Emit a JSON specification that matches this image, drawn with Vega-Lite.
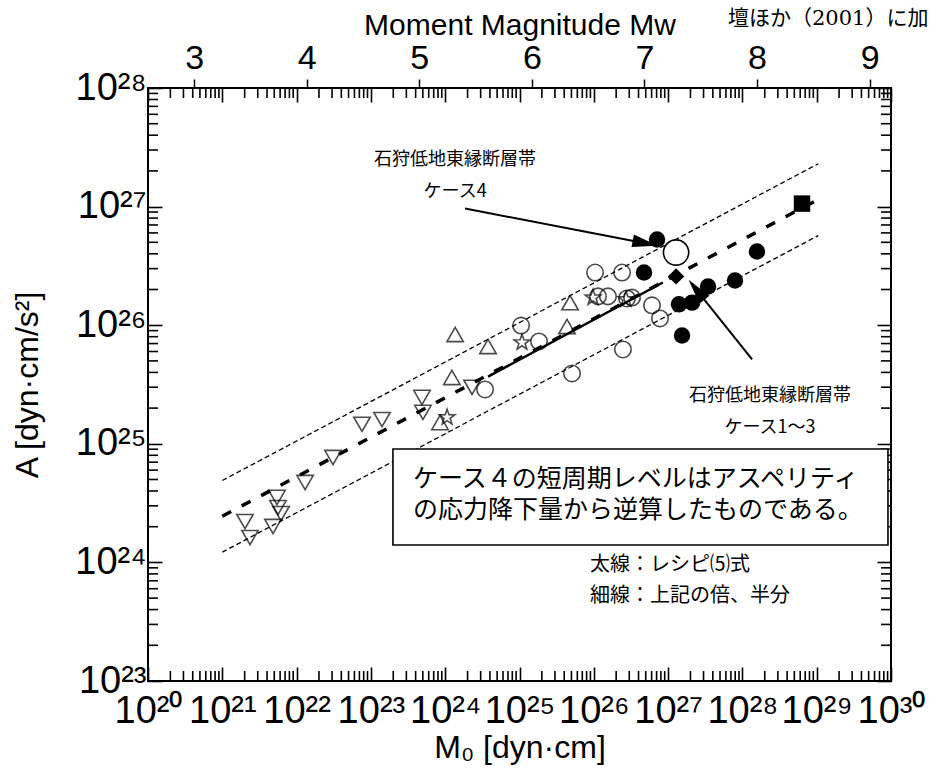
{
  "$schema": "https://vega.github.io/schema/vega-lite/v6.json",
  "width": 743,
  "height": 593,
  "autosize": {"type": "none"},
  "padding": {"left": 148, "top": 88, "right": 38, "bottom": 103},
  "background": "white",
  "config": {
    "view": {"stroke": "black", "strokeWidth": 2},
    "font": "Liberation Sans",
    "axis": {
      "domain": false,
      "grid": false,
      "tickColor": "black",
      "labelColor": "black",
      "titleColor": "black",
      "labelFont": "Liberation Sans",
      "titleFont": "Liberation Sans",
      "titleFontWeight": "normal"
    }
  },
  "datasets": {
    "minorX": [
      {"v": 2e20}, {"v": 3e20}, {"v": 4e20}, {"v": 5e20}, {"v": 6e20}, {"v": 7e20}, {"v": 8e20}, {"v": 9e20},
      {"v": 2e21}, {"v": 3e21}, {"v": 4e21}, {"v": 5e21}, {"v": 6e21}, {"v": 7e21}, {"v": 8e21}, {"v": 9e21},
      {"v": 2e22}, {"v": 3e22}, {"v": 4e22}, {"v": 5e22}, {"v": 6e22}, {"v": 7e22}, {"v": 8e22}, {"v": 9e22},
      {"v": 2e23}, {"v": 3e23}, {"v": 4e23}, {"v": 5e23}, {"v": 6e23}, {"v": 7e23}, {"v": 8e23}, {"v": 9e23},
      {"v": 2e24}, {"v": 3e24}, {"v": 4e24}, {"v": 5e24}, {"v": 6e24}, {"v": 7e24}, {"v": 8e24}, {"v": 9e24},
      {"v": 2e25}, {"v": 3e25}, {"v": 4e25}, {"v": 5e25}, {"v": 6e25}, {"v": 7e25}, {"v": 8e25}, {"v": 9e25},
      {"v": 2e26}, {"v": 3e26}, {"v": 4e26}, {"v": 5e26}, {"v": 6e26}, {"v": 7e26}, {"v": 8e26}, {"v": 9e26},
      {"v": 2e27}, {"v": 3e27}, {"v": 4e27}, {"v": 5e27}, {"v": 6e27}, {"v": 7e27}, {"v": 8e27}, {"v": 9e27},
      {"v": 2e28}, {"v": 3e28}, {"v": 4e28}, {"v": 5e28}, {"v": 6e28}, {"v": 7e28}, {"v": 8e28}, {"v": 9e28},
      {"v": 2e29}, {"v": 3e29}, {"v": 4e29}, {"v": 5e29}, {"v": 6e29}, {"v": 7e29}, {"v": 8e29}, {"v": 9e29}
    ],
    "minorY": [
      {"v": 2e23}, {"v": 3e23}, {"v": 4e23}, {"v": 5e23}, {"v": 6e23}, {"v": 7e23}, {"v": 8e23}, {"v": 9e23},
      {"v": 2e24}, {"v": 3e24}, {"v": 4e24}, {"v": 5e24}, {"v": 6e24}, {"v": 7e24}, {"v": 8e24}, {"v": 9e24},
      {"v": 2e25}, {"v": 3e25}, {"v": 4e25}, {"v": 5e25}, {"v": 6e25}, {"v": 7e25}, {"v": 8e25}, {"v": 9e25},
      {"v": 2e26}, {"v": 3e26}, {"v": 4e26}, {"v": 5e26}, {"v": 6e26}, {"v": 7e26}, {"v": 8e26}, {"v": 9e26},
      {"v": 2e27}, {"v": 3e27}, {"v": 4e27}, {"v": 5e27}, {"v": 6e27}, {"v": 7e27}, {"v": 8e27}, {"v": 9e27}
    ],
    "lines": [
      {"series": "upper", "M0": 1e21, "A": 4.9e24},
      {"series": "upper", "M0": 1.05e29, "A": 2.3e27},
      {"series": "lower", "M0": 1e21, "A": 1.22e24},
      {"series": "lower", "M0": 1.05e29, "A": 5.7e26},
      {"series": "recipe", "M0": 1e21, "A": 2.45e24},
      {"series": "recipe", "M0": 1.05e29, "A": 1.15e27},
      {"series": "fit", "M0": 3.77e24, "A": 3.69e25},
      {"series": "fit", "M0": 8.5e26, "A": 2.29e26}
    ],
    "points": [
      {"group": "▽", "M0": 2.02e21, "A": 2.21e24},
      {"group": "▽", "M0": 2.36e21, "A": 1.62e24},
      {"group": "▽", "M0": 4.81e21, "A": 2.01e24},
      {"group": "▽", "M0": 5.44e21, "A": 3.53e24},
      {"group": "▽", "M0": 5.62e21, "A": 2.90e24},
      {"group": "▽", "M0": 6.17e21, "A": 2.58e24},
      {"group": "▽", "M0": 1.30e22, "A": 4.72e24},
      {"group": "▽", "M0": 3.09e22, "A": 7.66e24},
      {"group": "▽", "M0": 7.59e22, "A": 1.46e25},
      {"group": "▽", "M0": 1.41e23, "A": 1.60e25},
      {"group": "▽", "M0": 4.87e23, "A": 2.46e25},
      {"group": "▽", "M0": 5.02e23, "A": 1.84e25},
      {"group": "▽", "M0": 2.30e24, "A": 2.99e25},
      {"group": "△", "M0": 1.36e24, "A": 8.35e25},
      {"group": "△", "M0": 1.23e24, "A": 3.62e25},
      {"group": "△", "M0": 3.77e24, "A": 6.61e25},
      {"group": "△", "M0": 8.51e23, "A": 1.51e25},
      {"group": "△", "M0": 4.79e25, "A": 1.55e26},
      {"group": "△", "M0": 4.36e25, "A": 9.75e25},
      {"group": "☆", "M0": 1.06e24, "A": 1.67e25},
      {"group": "☆", "M0": 1.08e25, "A": 7.15e25},
      {"group": "☆", "M0": 9.75e25, "A": 1.71e26},
      {"group": "☆", "M0": 2.71e26, "A": 1.65e26},
      {"group": "○", "M0": 1.04e26, "A": 2.78e26},
      {"group": "○", "M0": 2.40e26, "A": 2.78e26},
      {"group": "○", "M0": 1.14e26, "A": 1.75e26},
      {"group": "○", "M0": 1.55e26, "A": 1.75e26},
      {"group": "○", "M0": 2.80e26, "A": 1.68e26},
      {"group": "○", "M0": 3.27e26, "A": 1.71e26},
      {"group": "○", "M0": 1.05e25, "A": 9.93e25},
      {"group": "○", "M0": 1.83e25, "A": 7.30e25},
      {"group": "○", "M0": 2.47e26, "A": 6.24e25},
      {"group": "○", "M0": 5.09e25, "A": 3.92e25},
      {"group": "○", "M0": 3.44e24, "A": 2.87e25},
      {"group": "○", "M0": 6.07e26, "A": 1.47e26},
      {"group": "○", "M0": 7.78e26, "A": 1.14e26},
      {"group": "●", "M0": 7.10e26, "A": 5.28e26},
      {"group": "●", "M0": 1.40e27, "A": 1.50e26},
      {"group": "●", "M0": 2.10e27, "A": 1.55e26},
      {"group": "●", "M0": 3.45e27, "A": 2.12e26},
      {"group": "●", "M0": 7.95e27, "A": 2.38e26},
      {"group": "●", "M0": 1.57e28, "A": 4.18e26},
      {"group": "●", "M0": 1.54e27, "A": 8.18e25},
      {"group": "◆", "M0": 1.28e27, "A": 2.58e26},
      {"group": "■", "M0": 6.34e28, "A": 1.06e27},
      {"group": "・", "M0": 4.74e26, "A": 2.78e26},
      {"group": "ケース4", "M0": 1.28e27, "A": 4.10e26}
    ],
    "arrows": [
      {"arrow": "ケース4", "M0": 1.85e24, "A": 9.64e26, "M0end": 4.92e26, "Aend": 4.91e26},
      {"arrow": "ケース1～3", "M0": 1.35e28, "A": 5.14e25, "M0end": 2.41e27, "Aend": 1.99e26}
    ],
    "box": [
      {"M0a": 1.98e23, "M0b": 9.1e29, "Atop": 9.04e24, "Abot": 1.40e24}
    ],
    "notes": [
      {"role": "callout", "label": "石狩低地東縁断層帯", "M0": 1.36e24, "A": 2.49e27},
      {"role": "callout", "label": "ケース4", "M0": 1.36e24, "A": 1.34e27},
      {"role": "callout", "label": "石狩低地東縁断層帯", "M0": 2.35e28, "A": 2.55e25},
      {"role": "callout", "label": "ケース1～3", "M0": 2.35e28, "A": 1.37e25},
      {"role": "box", "label": "ケース４の短周期レベルはアスペリティ", "M0": 3.69e23, "A": 5.09e24},
      {"role": "box", "label": "の応力降下量から逆算したものである。", "M0": 3.69e23, "A": 2.79e24},
      {"role": "key", "label": "太線：レシピ⑸式", "M0": 8.89e25, "A": 9.6e23},
      {"role": "key", "label": "細線：上記の倍、半分", "M0": 8.89e25, "A": 5.16e23},
      {"role": "source", "label": "壇ほか（2001）に加筆", "M0": 6.4e27, "A": 3.8e28}
    ],
    "mw": [
      {"Mw": 3}, {"Mw": 4}, {"Mw": 5}, {"Mw": 6}, {"Mw": 7}, {"Mw": 8}, {"Mw": 9}
    ]
  },
  "layer": [
    {
      "data": {"name": "lines"},
      "transform": [{"filter": "datum.series == 'upper' || datum.series == 'lower'"}],
      "mark": {"type": "line", "color": "black", "strokeWidth": 1.3, "strokeDash": [5, 3]},
      "encoding": {
        "x": {
          "field": "M0", "type": "quantitative",
          "scale": {"type": "log", "domain": [1e20, 1e30], "nice": false},
          "axis": {
            "orient": "bottom",
            "values": [1e20,1e21,1e22,1e23,1e24,1e25,1e26,1e27,1e28,1e29,1e30],
            "labelExpr": "'10' + substring('⁰¹²³⁴⁵⁶⁷⁸⁹', floor(round(log(datum.value)/LN10)/10), floor(round(log(datum.value)/LN10)/10)+1) + substring('⁰¹²³⁴⁵⁶⁷⁸⁹', round(log(datum.value)/LN10)%10, round(log(datum.value)/LN10)%10+1)",
            "labelFontSize": 38,
            "labelPadding": 25,
            "labelOverlap": false,
            "labelFlush": false,
            "tickSize": -14,
            "tickWidth": 1.6,
            "title": "M₀ [dyn·cm]",
            "titleFontSize": 32,
            "titlePadding": 2
          }
        },
        "y": {
          "field": "A", "type": "quantitative",
          "scale": {"type": "log", "domain": [1e23, 1e28], "nice": false},
          "axis": {
            "orient": "left",
            "values": [1e23,1e24,1e25,1e26,1e27,1e28],
            "labelExpr": "'10' + substring('⁰¹²³⁴⁵⁶⁷⁸⁹', floor(round(log(datum.value)/LN10)/10), floor(round(log(datum.value)/LN10)/10)+1) + substring('⁰¹²³⁴⁵⁶⁷⁸⁹', round(log(datum.value)/LN10)%10, round(log(datum.value)/LN10)%10+1)",
            "labelFontSize": 38,
            "labelPadding": 16,
            "labelOverlap": false,
            "labelFlush": false,
            "tickSize": -14,
            "tickWidth": 1.6,
            "title": "A [dyn·cm/s²]",
            "titleFontSize": 32,
            "titlePadding": 30
          }
        },
        "detail": {"field": "series"}
      }
    },
    {
      "data": {"name": "lines"},
      "transform": [{"filter": "datum.series == 'recipe'"}],
      "mark": {"type": "line", "color": "black", "strokeWidth": 3.5, "strokeDash": [10, 12]},
      "encoding": {
        "x": {
          "field": "M0", "type": "quantitative",
          "scale": {"type": "log", "domain": [1e20, 1e30], "nice": false},
          "axis": {"orient": "top", "values": [1e20,1e21,1e22,1e23,1e24,1e25,1e26,1e27,1e28,1e29,1e30], "labels": false, "title": null, "tickSize": -14, "tickWidth": 1.6}
        },
        "y": {
          "field": "A", "type": "quantitative",
          "scale": {"type": "log", "domain": [1e23, 1e28], "nice": false},
          "axis": {"orient": "right", "values": [1e23,1e24,1e25,1e26,1e27,1e28], "labels": false, "title": null, "tickSize": -14, "tickWidth": 1.6}
        }
      }
    },
    {
      "data": {"name": "minorX"},
      "mark": {"type": "rule", "color": "black", "strokeWidth": 1.6},
      "encoding": {
        "x": {"field": "v", "type": "quantitative", "scale": {"type": "log", "domain": [1e20, 1e30], "nice": false}, "axis": null},
        "y": {"datum": 1e23, "type": "quantitative", "scale": {"type": "log", "domain": [1e23, 1e28], "nice": false}, "axis": null},
        "y2": {"datum": 1.214e23}
      }
    },
    {
      "data": {"name": "minorX"},
      "mark": {"type": "rule", "color": "black", "strokeWidth": 1.6},
      "encoding": {
        "x": {"field": "v", "type": "quantitative", "scale": {"type": "log", "domain": [1e20, 1e30], "nice": false}, "axis": null},
        "y": {"datum": 1e28, "type": "quantitative", "scale": {"type": "log", "domain": [1e23, 1e28], "nice": false}, "axis": null},
        "y2": {"datum": 8.24e27}
      }
    },
    {
      "data": {"name": "minorY"},
      "mark": {"type": "rule", "color": "black", "strokeWidth": 1.6},
      "encoding": {
        "y": {"field": "v", "type": "quantitative", "scale": {"type": "log", "domain": [1e23, 1e28], "nice": false}, "axis": null},
        "x": {"datum": 1e20, "type": "quantitative", "scale": {"type": "log", "domain": [1e20, 1e30], "nice": false}, "axis": null},
        "x2": {"datum": 1.363e20}
      }
    },
    {
      "data": {"name": "minorY"},
      "mark": {"type": "rule", "color": "black", "strokeWidth": 1.6},
      "encoding": {
        "y": {"field": "v", "type": "quantitative", "scale": {"type": "log", "domain": [1e23, 1e28], "nice": false}, "axis": null},
        "x": {"datum": 1e30, "type": "quantitative", "scale": {"type": "log", "domain": [1e20, 1e30], "nice": false}, "axis": null},
        "x2": {"datum": 7.34e29}
      }
    },
    {
      "data": {"name": "lines"},
      "transform": [{"filter": "datum.series == 'fit'"}],
      "mark": {"type": "line", "color": "black", "strokeWidth": 2.5},
      "encoding": {
        "x": {"field": "M0", "type": "quantitative", "scale": {"type": "log", "domain": [1e20, 1e30], "nice": false}, "axis": null},
        "y": {"field": "A", "type": "quantitative", "scale": {"type": "log", "domain": [1e23, 1e28], "nice": false}, "axis": null}
      }
    },
    {
      "data": {"name": "points"},
      "transform": [{"filter": "indexof(['▽','△','☆','○'], datum.group) >= 0"}],
      "mark": {"type": "point", "filled": false, "color": "black", "strokeWidth": 1.6},
      "encoding": {
        "x": {"field": "M0", "type": "quantitative", "scale": {"type": "log", "domain": [1e20, 1e30], "nice": false}, "axis": null},
        "y": {"field": "A", "type": "quantitative", "scale": {"type": "log", "domain": [1e23, 1e28], "nice": false}, "axis": null},
        "shape": {
          "field": "group", "type": "nominal", "legend": null,
          "scale": {"domain": ["▽", "△", "☆", "○", "●", "◆", "■", "・"], "range": ["triangle-down", "triangle-up", "M0,-1L0.235,-0.324L0.951,-0.309L0.38,0.124L0.588,0.809L0,0.4L-0.588,0.809L-0.38,0.124L-0.951,-0.309L-0.235,-0.324Z", "circle", "circle", "diamond", "square", "circle"]}
        },
        "size": {
          "field": "group", "type": "nominal", "legend": null,
          "scale": {"domain": ["▽", "△", "☆", "○", "●", "◆", "■", "・"], "range": [270, 270, 300, 256, 300, 650, 250, 8]}
        }
      }
    },
    {
      "data": {"name": "points"},
      "transform": [{"filter": "indexof(['●','◆','■','・'], datum.group) >= 0"}],
      "mark": {"type": "point", "filled": true, "color": "black", "opacity": 1},
      "encoding": {
        "x": {"field": "M0", "type": "quantitative", "scale": {"type": "log", "domain": [1e20, 1e30], "nice": false}, "axis": null},
        "y": {"field": "A", "type": "quantitative", "scale": {"type": "log", "domain": [1e23, 1e28], "nice": false}, "axis": null},
        "shape": {
          "field": "group", "type": "nominal", "legend": null,
          "scale": {"domain": ["▽", "△", "☆", "○", "●", "◆", "■", "・"], "range": ["triangle-down", "triangle-up", "M0,-1L0.235,-0.324L0.951,-0.309L0.38,0.124L0.588,0.809L0,0.4L-0.588,0.809L-0.38,0.124L-0.951,-0.309L-0.235,-0.324Z", "circle", "circle", "diamond", "square", "circle"]}
        },
        "size": {
          "field": "group", "type": "nominal", "legend": null,
          "scale": {"domain": ["▽", "△", "☆", "○", "●", "◆", "■", "・"], "range": [270, 270, 300, 256, 300, 650, 250, 8]}
        }
      }
    },
    {
      "data": {"name": "points"},
      "transform": [{"filter": "datum.group == 'ケース4'"}],
      "mark": {"type": "point", "shape": "circle", "filled": true, "fill": "white", "stroke": "black", "strokeWidth": 1.6, "size": 640, "opacity": 1},
      "encoding": {
        "x": {"field": "M0", "type": "quantitative", "scale": {"type": "log", "domain": [1e20, 1e30], "nice": false}, "axis": null},
        "y": {"field": "A", "type": "quantitative", "scale": {"type": "log", "domain": [1e23, 1e28], "nice": false}, "axis": null}
      }
    },
    {
      "data": {"name": "arrows"},
      "mark": {"type": "rule", "color": "black", "strokeWidth": 2},
      "encoding": {
        "x": {"field": "M0", "type": "quantitative", "scale": {"type": "log", "domain": [1e20, 1e30], "nice": false}, "axis": null},
        "y": {"field": "A", "type": "quantitative", "scale": {"type": "log", "domain": [1e23, 1e28], "nice": false}, "axis": null},
        "x2": {"field": "M0end"},
        "y2": {"field": "Aend"}
      }
    },
    {
      "data": {"name": "arrows"},
      "transform": [{"filter": "datum.arrow == 'ケース4'"}],
      "mark": {"type": "point", "shape": "M0,-1L0.5,1L-0.5,1Z", "filled": true, "color": "black", "opacity": 1, "size": 650, "angle": 100.9},
      "encoding": {
        "x": {"field": "M0end", "type": "quantitative", "scale": {"type": "log", "domain": [1e20, 1e30], "nice": false}, "axis": null},
        "y": {"field": "Aend", "type": "quantitative", "scale": {"type": "log", "domain": [1e23, 1e28], "nice": false}, "axis": null}
      }
    },
    {
      "data": {"name": "arrows"},
      "transform": [{"filter": "datum.arrow == 'ケース1～3'"}],
      "mark": {"type": "point", "shape": "M0,-1L0.5,1L-0.5,1Z", "filled": true, "color": "black", "opacity": 1, "size": 650, "angle": 321.5},
      "encoding": {
        "x": {"field": "M0end", "type": "quantitative", "scale": {"type": "log", "domain": [1e20, 1e30], "nice": false}, "axis": null},
        "y": {"field": "Aend", "type": "quantitative", "scale": {"type": "log", "domain": [1e23, 1e28], "nice": false}, "axis": null}
      }
    },
    {
      "data": {"name": "box"},
      "mark": {"type": "rect", "fill": "white", "stroke": "black", "strokeWidth": 1.6},
      "encoding": {
        "x": {"field": "M0a", "type": "quantitative", "scale": {"type": "log", "domain": [1e20, 1e30], "nice": false}, "axis": null},
        "x2": {"field": "M0b"},
        "y": {"field": "Atop", "type": "quantitative", "scale": {"type": "log", "domain": [1e23, 1e28], "nice": false}, "axis": null},
        "y2": {"field": "Abot"}
      }
    },
    {
      "data": {"name": "notes"},
      "transform": [{"filter": "datum.role == 'callout'"}],
      "mark": {"type": "text", "font": "Noto Sans CJK JP", "fontSize": 18, "align": "center", "baseline": "middle", "color": "black"},
      "encoding": {
        "x": {"field": "M0", "type": "quantitative", "scale": {"type": "log", "domain": [1e20, 1e30], "nice": false}, "axis": null},
        "y": {"field": "A", "type": "quantitative", "scale": {"type": "log", "domain": [1e23, 1e28], "nice": false}, "axis": null},
        "text": {"field": "label"}
      }
    },
    {
      "data": {"name": "notes"},
      "transform": [{"filter": "datum.role == 'box'"}],
      "mark": {"type": "text", "font": "Noto Sans CJK JP", "fontSize": 25, "align": "left", "baseline": "middle", "color": "black"},
      "encoding": {
        "x": {"field": "M0", "type": "quantitative", "scale": {"type": "log", "domain": [1e20, 1e30], "nice": false}, "axis": null},
        "y": {"field": "A", "type": "quantitative", "scale": {"type": "log", "domain": [1e23, 1e28], "nice": false}, "axis": null},
        "text": {"field": "label"}
      }
    },
    {
      "data": {"name": "notes"},
      "transform": [{"filter": "datum.role == 'key'"}],
      "mark": {"type": "text", "font": "Noto Sans CJK JP", "fontSize": 20, "align": "left", "baseline": "middle", "color": "black"},
      "encoding": {
        "x": {"field": "M0", "type": "quantitative", "scale": {"type": "log", "domain": [1e20, 1e30], "nice": false}, "axis": null},
        "y": {"field": "A", "type": "quantitative", "scale": {"type": "log", "domain": [1e23, 1e28], "nice": false}, "axis": null},
        "text": {"field": "label"}
      }
    },
    {
      "data": {"name": "notes"},
      "transform": [{"filter": "datum.role == 'source'"}],
      "mark": {"type": "text", "font": "DejaVu Serif, Noto Sans CJK JP", "fontSize": 21, "align": "left", "baseline": "middle", "color": "black"},
      "encoding": {
        "x": {"field": "M0", "type": "quantitative", "scale": {"type": "log", "domain": [1e20, 1e30], "nice": false}, "axis": null},
        "y": {"field": "A", "type": "quantitative", "scale": {"type": "log", "domain": [1e23, 1e28], "nice": false}, "axis": null},
        "text": {"field": "label"}
      }
    },
    {
      "data": {"name": "mw"},
      "mark": {"type": "point", "opacity": 0},
      "encoding": {
        "x": {
          "field": "Mw", "type": "quantitative",
          "scale": {"domain": [2.59, 9.19], "nice": false, "zero": false},
          "axis": {
            "orient": "top",
            "values": [3, 4, 5, 6, 7, 8, 9],
            "format": "d",
            "tickSize": 9,
            "tickWidth": 1.5,
            "labelFontSize": 34,
            "labelPadding": 4,
            "labelFlush": false,
            "title": "Moment Magnitude Mw",
            "titleFontSize": 30,
            "titlePadding": 1
          }
        }
      }
    }
  ],
  "resolve": {"scale": {"x": "independent"}, "axis": {"x": "independent", "y": "independent"}}
}
